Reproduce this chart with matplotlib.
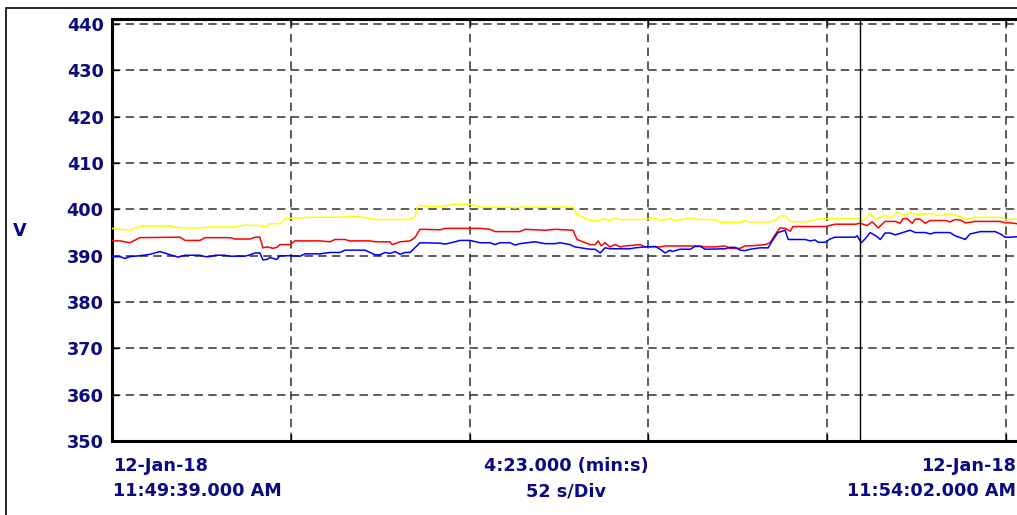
import matplotlib
matplotlib.use("Agg")
import matplotlib.pyplot as plt
from matplotlib.patches import Rectangle

# Farger og skrift
NAVY = '#0a0a82'
FONT = 'DejaVu Sans'
FSIZE = 12.7

# Tid i sekund frå start (11:49:39), spenning i V
t_yellow = [0, 5.3, 8.2, 17.1, 20.0, 25.9, 28.8, 36.2, 39.1, 43.0, 45.0, 46.5, 49.4, 50.9,
            58.3, 67.1, 70.0, 73.0, 77.4, 87.1, 89.1, 90.0, 93.6, 96.5, 100.9, 105.3, 108.3,
            117.1, 118.6, 120.0, 135.6, 136.8, 140.6, 143.6, 144.2, 146.5, 148.0, 149.5,
            155.3, 159.8, 161.2, 164.2, 165.6, 170.1, 173.0, 177.4, 178.9, 184.8, 186.2,
            187.7, 193.6, 195.1, 196.5, 198.0, 199.5, 203.9, 208.3, 220.1, 220.7, 223.0,
            224.5, 227.4, 228.9, 231.0, 233.3, 234.8, 236.3, 237.7, 240.7, 243.6, 246.5,
            249.5, 251.8, 253.9, 261.3, 262.7, 266.3]
v_yellow = [395.9, 395.5, 396.4, 396.4, 396.0, 396.0, 396.2, 396.2, 396.6, 396.5, 396.2, 396.9,
            396.9, 398.0, 398.3, 398.3, 398.5, 398.4, 397.8, 397.8, 398.3, 400.9, 400.6, 400.6,
            401.1, 401.1, 400.5, 400.5, 400.3, 400.5, 400.5, 398.9, 397.6, 397.6, 398.0, 397.6,
            398.0, 397.8, 397.8, 398.1, 397.6, 398.0, 397.6, 398.1, 397.8, 397.8, 397.2, 397.2,
            397.6, 397.3, 397.3, 397.6, 398.6, 398.6, 397.4, 397.3, 398.0, 398.0, 397.5, 399.1,
            397.9, 398.7, 398.2, 399.4, 398.6, 399.3, 398.9, 398.9, 399.1, 398.6, 399.1, 398.4,
            397.8, 398.3, 398.3, 397.8, 397.9]

t_red = [0, 2.4, 5.3, 8.2, 20.0, 21.5, 25.9, 27.4, 34.7, 36.2, 40.6, 42.1, 43.5, 44.4, 45.6,
         47.4, 48.5, 49.4, 52.4, 53.8, 61.2, 64.1, 65.6, 68.5, 70.0, 75.9, 77.4, 81.8, 82.4,
         84.7, 87.7, 89.1, 90.6, 96.5, 98.0, 108.3, 111.2, 112.7, 120.0, 121.5, 127.4, 130.3,
         135.6, 136.8, 139.2, 140.6, 142.1, 143.0, 143.9, 145.0, 146.5, 148.0, 149.5, 150.9,
         155.3, 156.8, 161.2, 162.7, 173.0, 174.5, 177.4, 180.3, 181.8, 184.8, 186.2, 189.2,
         192.1, 193.6, 195.1, 196.5, 198.0, 199.5, 200.3, 209.8, 212.7, 218.6, 220.1, 222.1,
         223.6, 225.4, 227.4, 230.4, 231.8, 232.7, 233.9, 235.4, 236.3, 237.7, 239.2, 240.7,
         245.1, 246.5, 248.0, 249.5, 251.0, 252.4, 253.9, 261.3, 262.7, 264.2, 266.3]
v_red = [393.2, 393.2, 392.8, 393.9, 394.0, 393.3, 393.3, 393.9, 393.9, 393.6, 393.6, 394.0,
         394.0, 391.7, 391.9, 391.6, 391.8, 392.4, 392.4, 393.2, 393.2, 393.0, 393.5, 393.5,
         393.2, 393.2, 393.0, 393.0, 392.4, 393.0, 393.2, 393.9, 395.7, 395.6, 395.9, 395.9,
         395.7, 395.2, 395.2, 395.7, 395.5, 395.7, 395.5, 393.5, 392.8, 392.4, 392.4, 393.2,
         392.1, 392.8, 391.9, 392.4, 391.9, 392.1, 392.4, 391.9, 391.9, 392.1, 392.1, 391.9,
         391.9, 392.1, 391.6, 391.6, 392.1, 392.2, 392.4, 392.8, 394.6, 396.0, 395.9, 395.3,
         396.3, 396.3, 396.8, 396.8, 397.0, 396.5, 397.3, 396.0, 397.4, 397.4, 397.0, 398.0,
         398.0, 397.0, 397.9, 397.9, 397.0, 397.6, 397.6, 397.3, 397.8, 397.7, 397.1, 397.2,
         397.4, 397.4, 397.1, 397.1, 396.9]

t_blue = [0, 2.4, 3.8, 5.3, 8.2, 11.2, 14.1, 17.1, 19.4, 21.5, 25.9, 27.4, 28.8, 30.3, 33.2,
          34.7, 39.1, 40.6, 42.1, 43.5, 44.4, 45.6, 46.5, 48.5, 49.4, 52.4, 55.3, 56.8, 61.2,
          64.1, 67.1, 68.5, 74.4, 75.9, 77.4, 78.8, 80.3, 81.8, 83.3, 84.7, 86.2, 87.7, 90.6,
          96.5, 98.0, 100.9, 102.4, 105.3, 108.3, 111.2, 112.7, 114.1, 117.1, 118.6, 120.0,
          124.4, 127.4, 130.3, 131.8, 134.7, 136.2, 140.6, 142.1, 143.6, 145.0, 146.5, 152.4,
          153.9, 156.8, 159.8, 161.2, 162.7, 164.2, 164.8, 167.1, 170.1, 171.5, 173.0, 174.5,
          180.3, 181.8, 183.3, 184.8, 186.2, 187.7, 190.6, 193.0, 194.2, 195.9, 198.0, 198.9,
          203.9, 205.4, 206.8, 207.7, 209.8, 211.2, 212.7, 218.6, 219.2, 220.4, 221.5, 223.0,
          225.1, 226.0, 227.4, 228.9, 230.4, 234.8, 236.3, 239.2, 240.7, 242.1, 246.5, 248.0,
          251.0, 252.4, 255.4, 259.8, 261.3, 262.7, 264.2, 266.3]
v_blue = [389.8, 389.8, 389.4, 389.8, 390.0, 390.3, 390.9, 390.2, 389.7, 390.1, 390.1, 389.8,
          389.8, 390.1, 390.1, 389.9, 389.9, 390.2, 390.6, 390.6, 389.1, 389.2, 389.6, 389.2,
          390.0, 390.0, 389.9, 390.4, 390.4, 390.7, 390.7, 391.2, 391.2, 390.7, 390.2, 390.2,
          390.7, 390.5, 390.9, 390.3, 390.7, 390.7, 392.8, 392.7, 392.5, 393.0, 393.3, 393.3,
          392.8, 392.8, 392.4, 392.8, 392.8, 392.3, 392.6, 393.0, 392.6, 392.6, 392.8, 392.4,
          391.9, 391.4, 391.4, 390.6, 391.7, 391.5, 391.5, 391.7, 391.9, 392.0, 391.4, 390.6,
          391.2, 390.9, 391.4, 391.4, 392.0, 392.0, 391.4, 391.5, 391.8, 391.8, 391.2, 391.1,
          391.4, 391.7, 391.7, 393.2, 395.0, 395.5, 393.5, 393.5, 393.2, 393.4, 392.9, 392.9,
          393.6, 394.0, 394.0, 394.3, 392.8, 393.6, 395.0, 394.1, 393.5, 394.9, 394.9, 394.5,
          395.5, 395.0, 395.0, 394.7, 395.0, 395.0, 394.3, 393.5, 394.7, 395.2, 395.2, 394.7,
          394.0, 394.0, 394.1]

# Aksar og rutenett
y_ticks = [350, 360, 370, 380, 390, 400, 410, 420, 430, 440]
sec_per_div = 52.6
x_grid = [sec_per_div * k for k in range(0, 6)]
cursor_t = 220.1
x_max = 266.8
y_max = 441.1

fig = plt.figure(figsize=(10.17, 5.15), dpi=100)
W, H = 1017, 515
ax = fig.add_axes([112 / W, 74 / H, (1019 - 112) / W, 422 / H])

ax.plot(t_yellow, v_yellow, color='#ffff00', lw=1.1, zorder=3)
ax.plot(t_red, v_red, color='#ff0000', lw=1.1, zorder=3)
ax.plot(t_blue, v_blue, color='#0000ff', lw=1.1, zorder=3)
ax.axvline(cursor_t, color='black', lw=1.0, zorder=4)

ax.set_xlim(0, x_max)
ax.set_ylim(350, y_max)
ax.set_xticks(x_grid)
ax.set_xticklabels([])
ax.set_yticks(y_ticks)
ax.set_yticklabels([str(v) for v in y_ticks], fontfamily=FONT, fontweight='bold',
                   fontsize=FSIZE, color=NAVY)
ax.tick_params(axis='both', direction='in', length=5, width=1, top=True, right=False)
ax.tick_params(axis='y', pad=6)
ax.grid(True, color='#303030', lw=1.1, linestyle=(0, (5.5, 3.5)), zorder=1)

for side in ['left', 'top', 'bottom']:
    ax.spines[side].set_linewidth(2.2)
    ax.spines[side].set_color('black')
ax.spines['right'].set_visible(False)

# Ytre ramme
fig.add_artist(Rectangle((6 / W, -0.2), 2, (H - 8) / H + 0.2, transform=fig.transFigure,
                         fill=False, lw=1.2, edgecolor='black'))

txt = dict(fontfamily=FONT, fontweight='bold', fontsize=FSIZE, color=NAVY, va='center')
fig.text(20 / W, 1 - 231 / H, 'V', ha='center', **txt)
fig.text(113 / W, 1 - 466 / H, '12-Jan-18', ha='left', **txt)
fig.text(113 / W, 1 - 491 / H, '11:49:39.000 AM', ha='left', **txt)
fig.text(566 / W, 1 - 466 / H, '4:23.000 (min:s)', ha='center', **txt)
fig.text(566 / W, 1 - 491 / H, '52 s/Div', ha='center', **txt)
fig.text(1016 / W, 1 - 466 / H, '12-Jan-18', ha='right', **txt)
fig.text(1016 / W, 1 - 491 / H, '11:54:02.000 AM', ha='right', **txt)

fig.savefig('out.png', dpi=100)
